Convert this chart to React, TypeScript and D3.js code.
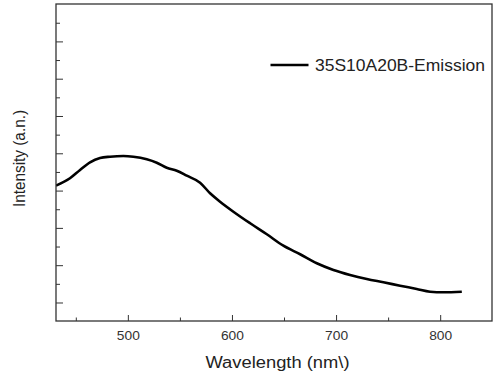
import React from "react";
import * as d3 from "d3";

const wavelengths = [430.5, 443.9, 453.6, 463.2, 472.8, 482.4, 495.2, 504.8, 517.7, 527.3, 536.9, 546.5, 556.1, 568.9, 578.5, 588.1, 600.9, 617, 633, 648.9, 665, 681, 697, 713, 729, 745, 761, 777, 789.8, 802.6, 820.3];
const intensity = [3.145, 3.343, 3.566, 3.772, 3.887, 3.922, 3.941, 3.922, 3.853, 3.761, 3.627, 3.547, 3.413, 3.225, 2.941, 2.716, 2.448, 2.137, 1.842, 1.536, 1.306, 1.064, 0.885, 0.751, 0.643, 0.555, 0.464, 0.375, 0.303, 0.287, 0.303];
const xMajorTicks = [500, 600, 700, 800];
const xMinorTicks = [450, 550, 650, 750];
const yMajorTicks = [0, 1, 2, 3, 4, 5, 6, 7];
const yMinorTicks = [0.5, 1.5, 2.5, 3.5, 4.5, 5.5, 6.5, 7.5];
const seriesName = "35S10A20B-Emission";
const xTitle = "Wavelength (nm\\)";
const yTitle = "Intensity (a.n.)";

export default function App() {
  const W = 497, H = 374;
  const L = 56, R = 492, T = 4, B = 321;
  const x = d3.scaleLinear().domain([430.5, 849.3]).range([L, R]);
  const y = d3.scaleLinear().domain([-0.483, 8.016]).range([B, T]);
  const pts = wavelengths.map((w, i) => [w, intensity[i]] as [number, number]);
  const line = d3.line<[number, number]>().x(d => x(d[0])).y(d => y(d[1])).curve(d3.curveMonotoneX);
  const font = "'Liberation Sans', Arial, sans-serif";
  const axisColor = "#333";
  return (
    <svg width={W} height={H} style={{ position: "absolute", left: 0, top: 0, background: "#fff" }} fontFamily={font}>
      <defs>
        <clipPath id="plot"><rect x={L} y={T} width={R - L} height={B - T} /></clipPath>
      </defs>
      <path d={line(pts) || ""} fill="none" stroke="#000" strokeWidth={2.6} strokeLinejoin="round" clipPath="url(#plot)" />
      {xMajorTicks.map(t => (
        <g key={"xm" + t}>
          <line x1={x(t)} x2={x(t)} y1={B} y2={B - 6} stroke={axisColor} strokeWidth={1} />
          <text x={x(t)} y={B + 19} textAnchor="middle" fontSize={13.5} fill="#333" textLength={23} lengthAdjust="spacingAndGlyphs">{t}</text>
        </g>
      ))}
      {xMinorTicks.map(t => (
        <line key={"xn" + t} x1={x(t)} x2={x(t)} y1={B} y2={B - 3.5} stroke={axisColor} strokeWidth={1} />
      ))}
      {yMajorTicks.map(t => (
        <line key={"ym" + t} x1={L} x2={L + 7} y1={y(t)} y2={y(t)} stroke={axisColor} strokeWidth={1} />
      ))}
      {yMinorTicks.map(t => (
        <line key={"yn" + t} x1={L} x2={L + 4} y1={y(t)} y2={y(t)} stroke={axisColor} strokeWidth={1} />
      ))}
      <rect x={L} y={T} width={R - L} height={B - T} fill="none" stroke={axisColor} strokeWidth={1.3} />
      <text x={277.5} y={368} textAnchor="middle" fontSize={16} fill="#222" textLength={144} lengthAdjust="spacingAndGlyphs">{xTitle}</text>
      <text transform={`translate(24.5, 158.5) rotate(-90)`} textAnchor="middle" fontSize={16} fill="#222" textLength={97} lengthAdjust="spacingAndGlyphs">{yTitle}</text>
      <line x1={270.5} x2={308.5} y1={65} y2={65} stroke="#000" strokeWidth={2.6} />
      <text x={315} y={71} fontSize={16.5} fill="#222" textLength={170} lengthAdjust="spacingAndGlyphs">{seriesName}</text>
    </svg>
  );
}
